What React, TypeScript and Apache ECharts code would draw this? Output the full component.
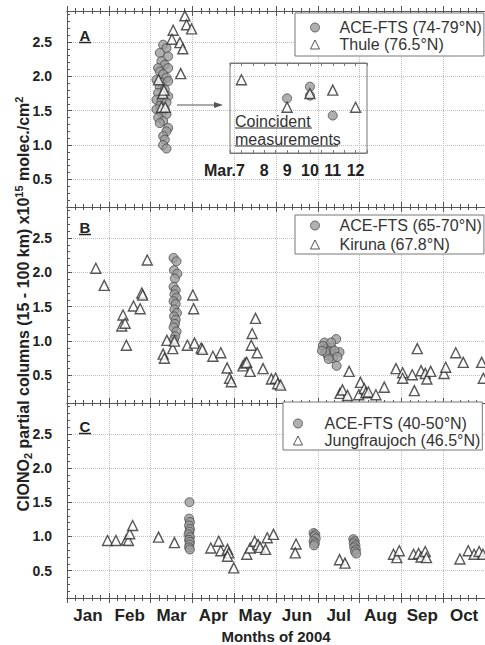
import React, { useEffect, useRef } from 'react';
import * as echarts from 'echarts';

// x = months since 1 Jan 2004 (fractional), y = ClONO2 column in 1e15 molec/cm2
const MONTHS = ['Jan', 'Feb', 'Mar', 'Apr', 'May', 'Jun', 'Jul', 'Aug', 'Sep', 'Oct'];
const Y_TICKS = [0.5, 1.0, 1.5, 2.0, 2.5];
const INSET_DAYS = [7, 8, 9, 10, 11, 12];

const aceA = [
  [2.30, 2.46], [2.38, 2.41], [2.22, 2.34], [2.42, 2.29], [2.26, 2.22], [2.34, 2.17], [2.18, 2.12],
  [2.42, 2.12], [2.22, 2.07], [2.30, 2.03], [2.38, 1.98], [2.14, 1.95], [2.26, 1.91], [2.42, 1.93],
  [2.22, 1.85], [2.34, 1.81], [2.18, 1.76], [2.30, 1.71], [2.42, 1.71], [2.14, 1.66], [2.26, 1.64],
  [2.38, 1.62], [2.22, 1.57], [2.34, 1.52], [2.14, 1.52], [2.26, 1.47], [2.38, 1.45], [2.18, 1.40],
  [2.30, 1.35], [2.22, 1.32], [2.42, 1.25], [2.38, 1.20], [2.30, 1.13], [2.34, 1.08], [2.30, 1.00],
  [2.38, 0.95],
];
const thuleA = [
  [2.19, 1.95], [2.26, 1.55], [2.29, 1.75], [2.32, 1.80], [2.35, 1.55],
  [2.54, 2.67], [2.51, 2.54], [2.70, 2.49], [2.77, 2.40], [2.72, 2.04],
  [2.82, 2.88], [2.86, 2.75], [2.98, 2.69],
];
// inset: x = day of March 2004
const insetAce = [[9, 1.68], [10, 1.85], [10, 1.72], [11, 1.43]];
const insetThule = [[7, 1.95], [9, 1.55], [10, 1.75], [11, 1.80], [12, 1.55]];

const aceB = [
  [2.55, 2.21], [2.62, 2.16], [2.56, 2.03], [2.64, 1.98], [2.58, 1.91], [2.55, 1.79], [2.60, 1.74],
  [2.57, 1.68], [2.62, 1.63], [2.55, 1.58], [2.60, 1.54], [2.57, 1.46], [2.63, 1.41], [2.56, 1.36],
  [2.60, 1.31], [2.58, 1.25], [2.55, 1.20], [2.62, 1.14], [2.59, 1.07], [2.56, 1.02],
  [6.16, 0.98], [6.44, 1.03], [6.20, 0.89], [6.32, 0.91], [6.52, 0.84], [6.24, 0.79], [6.36, 0.75],
  [6.45, 0.64], [6.12, 0.93], [6.28, 0.84], [6.40, 0.86], [6.18, 0.84], [6.47, 0.77], [6.26, 0.74],
  [6.32, 0.98], [6.10, 0.86],
];
const kirunaB = [
  [0.69, 2.06], [0.89, 1.81], [1.31, 1.22], [1.34, 1.38], [1.39, 1.26], [1.42, 0.94], [1.59, 1.51],
  [1.75, 1.47], [1.79, 1.70], [1.81, 1.67], [1.92, 2.18], [2.30, 0.81], [2.33, 0.75], [2.39, 1.01],
  [2.53, 0.89], [2.57, 1.00], [2.88, 0.94], [3.01, 1.67], [3.03, 1.47], [3.05, 0.97], [3.21, 0.90],
  [3.24, 0.88], [3.49, 0.78], [3.68, 0.83], [3.83, 0.61], [3.89, 0.46], [3.93, 0.41], [4.21, 0.64],
  [4.26, 0.68], [4.30, 0.69], [4.38, 0.56], [4.41, 0.94], [4.43, 1.11], [4.51, 1.33], [4.55, 0.83],
  [4.69, 0.60], [4.89, 0.45], [4.99, 0.46], [5.04, 0.38], [5.11, 0.36],
  [6.53, 0.24], [6.59, 0.29], [6.71, 0.21], [6.75, 0.56], [6.98, 0.22], [7.02, 0.40], [7.11, 0.31],
  [7.15, 0.25], [7.21, 0.26], [7.39, 0.22], [7.59, 0.33], [7.87, 0.60], [8.03, 0.54], [8.03, 0.46],
  [8.26, 0.51], [8.31, 0.28], [8.38, 0.89], [8.47, 0.57], [8.57, 0.53], [8.61, 0.45], [8.70, 0.56],
  [9.02, 0.53], [9.06, 0.62], [9.30, 0.83], [9.48, 0.69], [9.92, 0.69], [9.96, 0.46],
];

const aceC = [
  [2.93, 1.50], [2.92, 1.26], [2.94, 1.21], [2.92, 1.16], [2.94, 1.11], [2.93, 1.07], [2.91, 1.03],
  [2.94, 0.99], [2.92, 0.95], [2.94, 0.92], [2.93, 0.88], [2.92, 0.84], [2.94, 0.81],
  [5.90, 1.05], [5.94, 1.03], [5.92, 1.00], [5.95, 0.97], [5.90, 0.93], [5.93, 0.90], [5.91, 0.87],
  [6.85, 0.96], [6.88, 0.93], [6.86, 0.90], [6.90, 0.87], [6.87, 0.84], [6.91, 0.81], [6.89, 0.78],
  [6.92, 0.75],
];
const jungC = [
  [0.97, 0.94], [1.17, 0.94], [1.42, 0.95], [1.47, 0.94], [1.50, 1.04], [1.57, 1.16], [2.19, 0.99],
  [2.57, 0.91], [3.44, 0.83], [3.63, 0.93], [3.68, 0.79], [3.84, 0.81], [3.87, 0.76], [3.84, 0.71],
  [3.99, 0.54], [4.30, 0.74], [4.38, 0.83], [4.49, 0.93], [4.57, 0.88], [4.62, 0.84], [4.75, 0.81],
  [4.79, 0.98], [4.94, 1.03], [5.48, 0.89], [5.46, 0.76], [6.52, 0.66], [6.65, 0.61], [7.81, 0.74],
  [7.89, 0.69], [7.95, 0.79], [8.29, 0.74], [8.41, 0.75], [8.47, 0.70], [8.57, 0.78], [8.60, 0.69],
  [9.40, 0.67], [9.60, 0.79], [9.74, 0.74], [9.86, 0.78], [9.95, 0.74],
];

const NAMES = [
  ['ACE-FTS (74-79°N)', 'Thule (76.5°N)'],
  ['ACE-FTS (65-70°N)', 'Kiruna (67.8°N)'],
  ['ACE-FTS (40-50°N)', 'Jungfraujoch (46.5°N)'],
];
const PANEL_LABELS = ['A', 'B', 'C'];

const FONT = '"Liberation Sans", Arial, Helvetica, sans-serif';
const AXIS_COLOR = '#555';
const GRID_COLOR = '#bdbdbd';
const TEXT_COLOR = '#222';
const Y_MIN = 0.1;
const Y_MAX = 2.95;
const LEFT = 67;
const WIDTH = 419;
const PANELS = [
  { top: 11, height: 196 },
  { top: 207, height: 196 },
  { top: 403, height: 197 },
];
const INSET = { left: 230, top: 63, width: 137, height: 90 };
const LEGENDS = [
  { left: 295, top: 13, padding: [6, 2, 3, 15], itemGap: 0, textPad: 15 },
  { left: 295, top: 215, padding: [2, 2, 1, 15], itemGap: 2, textPad: 15 },
  { left: 283, top: 402, padding: [13, 2, 1, 10], itemGap: 0, textPad: 17 },
];

const circleStyle = { color: '#9c9c9c', borderColor: '#4a4a4a', borderWidth: 1 };
const triStyle = { color: '#ffffff', borderColor: '#2e2e2e', borderWidth: 1.4 };

function monthAxis(gridIndex: number, position: string, inside: boolean, split: boolean, labels: boolean) {
  return {
    type: 'value',
    gridIndex,
    position,
    min: 0,
    max: 10,
    interval: 1,
    axisLine: { show: true, onZero: false, lineStyle: { color: AXIS_COLOR, width: 1 } },
    axisTick: { show: true, inside, length: 5, lineStyle: { color: AXIS_COLOR } },
    minorTick: { show: true, splitNumber: 5, length: 3, lineStyle: { color: AXIS_COLOR } },
    splitLine: { show: split, lineStyle: { color: GRID_COLOR, type: 'dotted', width: 1 } },
    axisLabel: labels
      ? {
          show: true,
          customValues: MONTHS.map((_, k) => k + 0.5),
          formatter: (v: number) => MONTHS[Math.floor(v)] || '',
          fontSize: 17,
          fontWeight: 'bold',
          fontFamily: FONT,
          color: TEXT_COLOR,
          margin: 9,
        }
      : { show: false },
    ...(labels
      ? {
          name: 'Months of 2004',
          nameLocation: 'middle',
          nameGap: 31,
          nameTextStyle: { fontSize: 15, fontWeight: 'bold', fontFamily: FONT, color: TEXT_COLOR },
        }
      : {}),
  };
}

function valueAxis(gridIndex: number) {
  return {
    type: 'value',
    gridIndex,
    min: Y_MIN,
    max: Y_MAX,
    axisLine: { show: true, onZero: false, lineStyle: { color: AXIS_COLOR, width: 1 } },
    axisTick: { show: true, inside: true, length: 5, customValues: Y_TICKS, lineStyle: { color: AXIS_COLOR } },
    minorTick: { show: true, splitNumber: 5, length: 3, lineStyle: { color: AXIS_COLOR } },
    splitLine: { show: true, lineStyle: { color: GRID_COLOR, type: 'dotted', width: 1 } },
    axisLabel: {
      show: true,
      customValues: Y_TICKS,
      formatter: (v: number) => v.toFixed(1),
      fontSize: 14,
      fontWeight: 'bold',
      fontFamily: FONT,
      color: TEXT_COLOR,
      margin: 15,
    },
  };
}

export default function App() {
  const ref = useRef<HTMLDivElement>(null);

  useEffect(() => {
    if (!ref.current) return;
    const chart = echarts.init(ref.current, null, { renderer: 'svg' });

    const span = Y_MAX - Y_MIN;
    const insetYMax = Y_MAX - ((INSET.top - PANELS[0].top) / PANELS[0].height) * span;
    const insetYMin = Y_MAX - ((INSET.top + INSET.height - PANELS[0].top) / PANELS[0].height) * span;

    const grids: any[] = PANELS.map((p) => ({ left: LEFT, top: p.top, width: WIDTH, height: p.height }));
    grids.push({
      left: INSET.left,
      top: INSET.top,
      width: INSET.width,
      height: INSET.height,
      show: true,
      borderColor: '#777',
      borderWidth: 1,
      backgroundColor: 'transparent',
      z: 5,
    });

    const xAxes: any[] = [
      monthAxis(0, 'bottom', true, true, false), // 0
      monthAxis(1, 'bottom', true, true, false), // 1
      monthAxis(2, 'bottom', true, true, true), // 2
      monthAxis(0, 'top', true, false, false), // 3
      monthAxis(1, 'top', true, false, false), // 4
      monthAxis(2, 'top', true, false, false), // 5
      monthAxis(0, 'top', false, false, false), // 6
      monthAxis(2, 'bottom', false, false, false), // 7
      {
        // 8 inset bottom
        type: 'value',
        gridIndex: 3,
        position: 'bottom',
        min: 6.5,
        max: 12.5,
        interval: 0.5,
        axisLine: { show: true, onZero: false, lineStyle: { color: '#777' } },
        axisTick: { show: true, inside: true, length: 3, lineStyle: { color: '#777' } },
        splitLine: { show: false },
        axisLabel: {
          show: true,
          customValues: INSET_DAYS,
          formatter: (v: number) => (v === INSET_DAYS[0] ? '{m|Mar.' + v + '}' : String(v)),
          fontSize: 16,
          fontWeight: 'bold',
          fontFamily: FONT,
          color: TEXT_COLOR,
          margin: 9,
          rich: {
            m: {
              fontSize: 16,
              fontWeight: 'bold',
              fontFamily: FONT,
              color: TEXT_COLOR,
              padding: [0, 34, 0, 0],
            },
          },
        },
      },
      {
        // 9 inset top
        type: 'value',
        gridIndex: 3,
        position: 'top',
        min: 6.5,
        max: 12.5,
        interval: 0.5,
        axisLine: { show: true, onZero: false, lineStyle: { color: '#777' } },
        axisTick: { show: true, inside: true, length: 3, lineStyle: { color: '#777' } },
        splitLine: { show: false },
        axisLabel: { show: false },
      },
    ];

    const yAxes: any[] = [
      valueAxis(0),
      valueAxis(1),
      valueAxis(2),
      {
        type: 'value',
        gridIndex: 3,
        min: insetYMin,
        max: insetYMax,
        show: false,
      },
    ];

    const scatter = (name: string, data: number[][], xi: number, yi: number, tri: boolean) => ({
      type: 'scatter',
      name,
      data,
      xAxisIndex: xi,
      yAxisIndex: yi,
      symbol: tri ? 'triangle' : 'circle',
      symbolSize: tri ? 10 : 9,
      itemStyle: tri ? triStyle : circleStyle,
      z: tri ? 4 : 3,
      emphasis: { disabled: true },
    });

    const series = [
      scatter(NAMES[0][0], aceA, 0, 0, false),
      scatter(NAMES[0][1], thuleA, 0, 0, true),
      scatter(NAMES[1][0], aceB, 1, 1, false),
      scatter(NAMES[1][1], kirunaB, 1, 1, true),
      scatter(NAMES[2][0], aceC, 2, 2, false),
      scatter(NAMES[2][1], jungC, 2, 2, true),
      { ...scatter('inset ACE', insetAce, 8, 3, false), z: 6 },
      { ...scatter('inset Thule', insetThule, 8, 3, true), z: 7 },
    ];

    const legends = LEGENDS.map((l, i) => ({
      show: true,
      orient: 'vertical',
      left: l.left,
      top: l.top,
      padding: l.padding,
      itemGap: l.itemGap,
      itemWidth: 9,
      itemHeight: 9,
      data: NAMES[i],
      selectedMode: false,
      backgroundColor: '#fff',
      borderColor: '#777',
      borderWidth: 1,
      itemStyle: { borderWidth: 1 },
      formatter: '{t|{name}}',
      textStyle: {
        fontSize: 16,
        fontFamily: FONT,
        color: '#333',
        lineHeight: 17,
        rich: {
          t: { fontSize: 16, fontFamily: FONT, color: '#333', lineHeight: 17, padding: [0, 0, 0, l.textPad] },
        },
      },
      z: 10,
    }));

    const labelY = [35, 227, 426];
    const graphic: any[] = [];
    PANEL_LABELS.forEach((t, i) => {
      graphic.push({
        type: 'text',
        x: 85,
        y: labelY[i],
        style: {
          text: t,
          fontSize: 15,
          fontWeight: 'bold',
          fontFamily: FONT,
          fill: TEXT_COLOR,
          align: 'center',
          verticalAlign: 'middle',
        },
        z: 20,
      });
      graphic.push({
        type: 'line',
        shape: { x1: 79, y1: labelY[i] + 7.5, x2: 91, y2: labelY[i] + 7.5 },
        style: { stroke: TEXT_COLOR, lineWidth: 1.5 },
        z: 20,
      });
    });

    // "Coincident measurements" annotation
    const annot = [
      { text: 'Coincident', y: 121, w: 77 },
      { text: 'measurements', y: 139, w: 103 },
    ];
    annot.forEach((a) => {
      graphic.push({
        type: 'text',
        x: 235,
        y: a.y,
        style: {
          text: a.text,
          fontSize: 16,
          fontFamily: FONT,
          fill: '#333',
          align: 'left',
          verticalAlign: 'middle',
        },
        z: 20,
      });
      graphic.push({
        type: 'line',
        shape: { x1: 235, y1: a.y + 7, x2: 235 + a.w, y2: a.y + 7 },
        style: { stroke: '#333', lineWidth: 1 },
        z: 20,
      });
    });

    // arrow pointing into the inset
    graphic.push({
      type: 'line',
      shape: { x1: 177, y1: 105, x2: 216, y2: 105 },
      style: { stroke: '#555', lineWidth: 1 },
      z: 20,
    });
    graphic.push({
      type: 'polygon',
      shape: { points: [[223, 105], [214, 102], [214, 108]] },
      style: { fill: '#555' },
      z: 20,
    });

    // y axis title
    graphic.push({
      type: 'text',
      x: 23,
      y: 304,
      rotation: Math.PI / 2,
      style: {
        text: '{b|ClONO}{s|2}{b| partial columns (15 - 100 km) x10}{p|15}{b| molec./cm}{p|2}',
        align: 'center',
        verticalAlign: 'middle',
        rich: {
          b: { fontSize: 16, fontWeight: 'bold', fontFamily: FONT, fill: TEXT_COLOR, lineHeight: 20, verticalAlign: 'middle' },
          s: { fontSize: 11, fontWeight: 'bold', fontFamily: FONT, fill: TEXT_COLOR, lineHeight: 12, verticalAlign: 'bottom' },
          p: { fontSize: 11, fontWeight: 'bold', fontFamily: FONT, fill: TEXT_COLOR, lineHeight: 12, verticalAlign: 'top' },
        },
      },
      z: 20,
    });

    chart.setOption({
      animation: false,
      backgroundColor: '#fff',
      textStyle: { fontFamily: FONT },
      grid: grids,
      xAxis: xAxes,
      yAxis: yAxes,
      legend: legends,
      series,
      graphic,
    });

    return () => chart.dispose();
  }, []);

  return (
    <div
      ref={ref}
      style={{ position: 'absolute', left: 0, top: 0, width: 485, height: 645, background: '#fff' }}
    />
  );
}
